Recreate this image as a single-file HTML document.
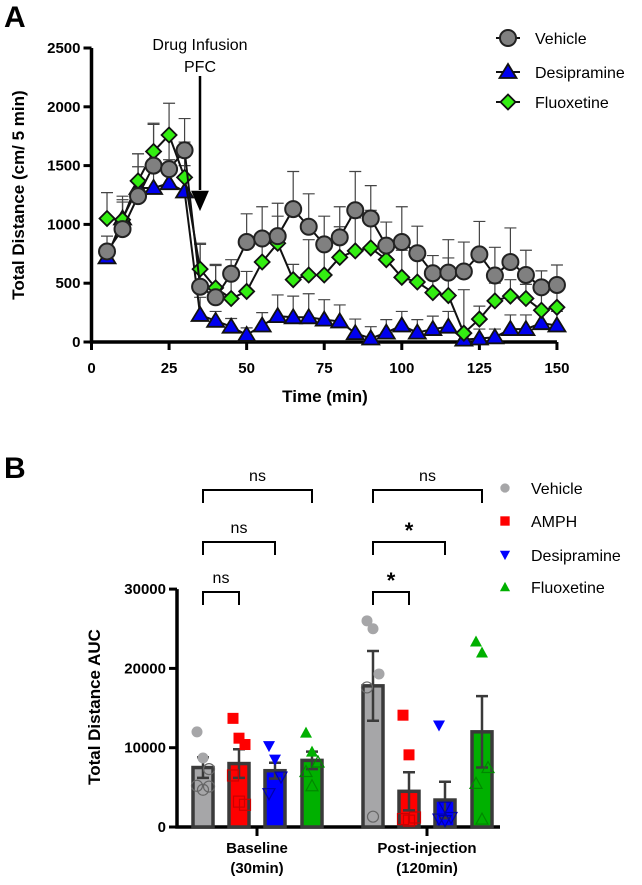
<!DOCTYPE html>
<html><head><meta charset="utf-8"><style>
body{margin:0;background:#fff;width:642px;height:885px;overflow:hidden;font-family:"Liberation Sans",Arial,sans-serif}
svg{display:block}
</style></head><body>
<svg id="s" width="642" height="885" xmlns="http://www.w3.org/2000/svg" font-family="Liberation Sans, Arial, sans-serif">
<text x="4" y="27" font-size="30" font-weight="bold">A</text>
<text x="4" y="478" font-size="30" font-weight="bold">B</text>
<g id="ga"></g>
<g id="gb"></g>
</svg>
<script>
const times=[5,10,15,20,25,30,35,40,45,50,55,60,65,70,75,80,85,90,95,100,105,110,115,120,125,130,135,140,145,150];
const vehicle=[770,960,1240,1500,1470,1630,470,380,580,850,880,900,1130,980,830,890,1120,1050,820,850,755,585,590,600,745,565,680,570,465,485];
const vehicleErr=[130,280,360,350,300,270,360,270,120,240,270,280,320,280,240,260,330,280,200,300,230,150,280,250,280,240,290,210,140,170];
const desipramine=[720,1050,1310,1310,1350,1280,230,180,130,60,140,220,210,210,190,175,75,30,80,140,80,110,130,20,30,40,110,110,160,140];
const desipramineErr=[60,160,180,180,200,220,150,80,70,60,110,180,180,200,170,140,120,100,110,120,110,110,130,60,80,70,120,120,120,120];
const fluoxetine=[1050,1040,1370,1620,1760,1400,620,460,370,430,680,840,530,570,570,720,775,800,700,550,510,420,395,75,195,350,390,370,270,295];
const fluoxetineErr=[220,150,230,240,270,300,220,200,190,170,230,230,130,300,260,260,280,320,170,230,200,160,320,370,110,150,140,120,150,200];
const yTicksA=[0,500,1000,1500,2000,2500];
const xTicksA=[0,25,50,75,100,125,150];

const groups=["Baseline","Post-injection"];
const groupSub=["(30min)","(120min)"];
const treatments=["Vehicle","AMPH","Desipramine","Fluoxetine"];
const baseMeans=[7500,8000,7100,8400];
const baseErr=[1300,1800,1000,1100];
const postMeans=[17800,4500,3400,12000];
const postErr=[4400,2400,2300,4500];
const basePts=[[12000,8700,7300,5200,4700,5100],[13700,11200,10400,6500,3200,2800],[10200,8500,6300,4200],[11900,9500,8200,7000,5200]];
const postPts=[[26000,25000,19300,17600,1300],[14100,9100,1200,1000,800],[12800,2500,1200,1000,800],[23400,22000,7500,5500,1000]];
const yTicksB=[0,10000,20000,30000];

const NS="http://www.w3.org/2000/svg";
function el(tag,attrs,parent,txt){const e=document.createElementNS(NS,tag);for(const k in attrs)e.setAttribute(k,attrs[k]);if(txt!==undefined)e.textContent=txt;parent.appendChild(e);return e;}

// ---- Chart A
const ga=document.getElementById('ga');
const xA=t=>91.5+t*3.103;
const yA=v=>342-v*0.1176;
let ax=el('path',{d:`M${xA(0)},${yA(2500)}V${yA(0)}H${xA(150)}`,stroke:'#000','stroke-width':3.5,fill:'none'},ga);


yTicksA.forEach(v=>{
 const l=el('line',{x1:xA(0)-8,x2:xA(0),y1:yA(v),y2:yA(v),stroke:'#000','stroke-width':3},ga);
 
 
 const t=el('text',{x:xA(0)-11,y:yA(v)+5,'text-anchor':'end','font-size':15,'font-weight':'bold'},ga,String(v));
 
 
});
xTicksA.forEach(v=>{
 const l=el('line',{x1:xA(v),x2:xA(v),y1:yA(0),y2:yA(0)+8,stroke:'#000','stroke-width':3},ga);
 
 
 const t=el('text',{x:xA(v),y:373,'text-anchor':'middle','font-size':15,'font-weight':'bold'},ga,String(v));
 
 
});
let tt=el('text',{x:325,y:402,'text-anchor':'middle','font-size':17,'font-weight':'bold'},ga,'Time (min)');


tt=el('text',{x:0,y:0,transform:'translate(24,195) rotate(-90)','text-anchor':'middle','font-size':17,'font-weight':'bold'},ga,'Total Distance (cm/ 5 min)');


tt=el('text',{x:200,y:50,'text-anchor':'middle','font-size':16},ga,'Drug Infusion');


tt=el('text',{x:200,y:72,'text-anchor':'middle','font-size':16},ga,'PFC');


tt=el('path',{d:'M200,76V190M193,192L200,208L207,192Z',stroke:'#000','stroke-width':2.5,fill:'#000'},ga);



function marker(kind,cx,cy,g){
 if(kind==='c')return el('circle',{cx,cy,r:8,fill:'#808080',stroke:'#222','stroke-width':2},g);
 if(kind==='t')return el('path',{d:`M${cx},${cy-8}L${cx+8.5},${cy+6}L${cx-8.5},${cy+6}Z`,fill:'#0000ee',stroke:'#111','stroke-width':1.8},g);
 return el('path',{d:`M${cx},${cy-7.5}L${cx+7.5},${cy}L${cx},${cy+7.5}L${cx-7.5},${cy}Z`,fill:'#33ee11',stroke:'#111','stroke-width':1.8},g);
}
const seriesA=[[desipramine,desipramineErr,'t','desipramine'],[fluoxetine,fluoxetineErr,'d','fluoxetine'],[vehicle,vehicleErr,'c','vehicle']];
seriesA.forEach(([vals,errs,k,n])=>{
 vals.forEach((v,i)=>{
  const x=xA(times[i]);
  const e=el('path',{d:`M${x},${yA(v)}V${yA(v+errs[i])}M${x-6},${yA(v+errs[i])}H${x+6}`,stroke:'#444','stroke-width':1.2,fill:'none'},ga);
  
  
 });
});
seriesA.forEach(([vals,errs,k,n])=>{
 const g=el('g',{},ga);
 
 
 const p=el('polyline',{points:vals.map((v,i)=>xA(times[i])+','+yA(v)).join(' '),fill:'none',stroke:'#111','stroke-width':2},g);
 
 
 vals.forEach((v,i)=>{
  const m=marker(k,xA(times[i]),yA(v),g);
  
  
 });
});
const legA=[['c','Vehicle',38],['t','Desipramine',72],['d','Fluoxetine',102]];
legA.forEach(([k,lab,y])=>{
 const g=el('g',{},ga);
 
 
 el('line',{x1:496,x2:520,y1:y,y2:y,stroke:'#111','stroke-width':2},g);
 marker(k,508,y,g);
 el('text',{x:535,y:y+6,'font-size':16},g,lab);
});

// ---- Chart B
const gb=document.getElementById('gb');
const yB=v=>827-v*0.00793;
const groupX=[257,427];
const offs=[-54,-18,18,55];
const cols=['#a6a6a8','#ff0000','#0000ff','#00b000'];
const dark=['#777','#cc0000','#0000aa','#008800'];
const bw=20;
let ab=el('path',{d:`M177,${yB(30000)}V${yB(0)}H500`,stroke:'#000','stroke-width':3.5,fill:'none'},gb);


yTicksB.forEach(v=>{
 const l=el('line',{x1:169,x2:177,y1:yB(v),y2:yB(v),stroke:'#000','stroke-width':3},gb);
 
 
 const t=el('text',{x:166,y:yB(v)+5,'text-anchor':'end','font-size':15,'font-weight':'bold'},gb,String(v));
 
 
});
groups.forEach((gname,gi)=>{
 const l=el('line',{x1:groupX[gi],x2:groupX[gi],y1:yB(0),y2:yB(0)+9,stroke:'#000','stroke-width':3},gb);
 
 
 const t=el('text',{x:groupX[gi],y:853,'text-anchor':'middle','font-size':15,'font-weight':'bold'},gb,gname);
 
 
 const t2=el('text',{x:groupX[gi],y:873,'text-anchor':'middle','font-size':15,'font-weight':'bold'},gb,groupSub[gi]);
 
 
});
tt=el('text',{x:0,y:0,transform:'translate(100,707) rotate(-90)','text-anchor':'middle','font-size':17,'font-weight':'bold'},gb,'Total Distance AUC');



function ptMarker(ti,cx,cy,filled,g){
 const f=filled?cols[ti]:'none', s=filled?'none':dark[ti], sw=filled?0:1.2;
 if(ti===0)return el('circle',{cx,cy,r:5.5,fill:filled?'#a6a6a8':'none',stroke:filled?'none':'#666','stroke-width':sw},g);
 if(ti===1)return el('rect',{x:cx-5.5,y:cy-5.5,width:11,height:11,fill:f,stroke:s,'stroke-width':sw},g);
 if(ti===2)return el('path',{d:`M${cx-6},${cy-5}L${cx+6},${cy-5}L${cx},${cy+6}Z`,fill:f,stroke:s,'stroke-width':sw},g);
 return el('path',{d:`M${cx-6},${cy+5}L${cx+6},${cy+5}L${cx},${cy-6}Z`,fill:f,stroke:s,'stroke-width':sw},g);
}
const meansAll=[baseMeans,postMeans], errAll=[baseErr,postErr], ptsAll=[basePts,postPts];
groups.forEach((gname,gi)=>{
 treatments.forEach((tn,ti)=>{
  const cx=groupX[gi]+offs[ti], m=meansAll[gi][ti], e=errAll[gi][ti];
  const g=el('g',{},gb);
  
  
  el('rect',{x:cx-bw/2,y:yB(m),width:bw,height:yB(0)-yB(m),fill:cols[ti],stroke:'#3a3a3a','stroke-width':3.5},g);
  el('path',{d:`M${cx},${yB(m-e)}V${yB(m+e)}M${cx-6},${yB(m+e)}H${cx+6}M${cx-6},${yB(m-e)}H${cx+6}`,stroke:'#3a3a3a','stroke-width':2.5,fill:'none'},g);
  const pts=ptsAll[gi][ti];
  pts.forEach((v,pi)=>{
   const jit=((pi%3)-1)*6;
   const p=ptMarker(ti,cx+jit,yB(v),v>m,g);
   
   
  });
 });
});
const brackets=[[0,3,490,'ns'],[0,2,542,'ns'],[0,1,592,'ns']];
groups.forEach((gname,gi)=>{
 brackets.forEach(([a,b,y,lab])=>{
  const x1=groupX[gi]+offs[a], x2=groupX[gi]+offs[b];
  const g=el('g',{},gb);
  
  
  el('path',{d:`M${x1},${y+13}V${y}H${x2}V${y+13}`,stroke:'#000','stroke-width':2,fill:'none'},g);
  const txt=(gi===1&&b!==3)?'*':lab;
  if(txt==='*')el('text',{x:(x1+x2)/2,y:y-4,'text-anchor':'middle','font-size':22,'font-weight':'bold'},g,'*');
  else el('text',{x:(x1+x2)/2,y:y-9,'text-anchor':'middle','font-size':16},g,txt);
 });
});
const legB=[488,521,555,587];
treatments.forEach((tn,ti)=>{
 const g=el('g',{},gb);
 
 
 const m=ptMarker(ti,505,legB[ti],true,g);
 m.setAttribute('transform',`translate(505,${legB[ti]}) scale(0.85) translate(-505,${-legB[ti]})`);
 el('text',{x:531,y:legB[ti]+6,'font-size':16},g,tn);
});
</script>
</body></html>
